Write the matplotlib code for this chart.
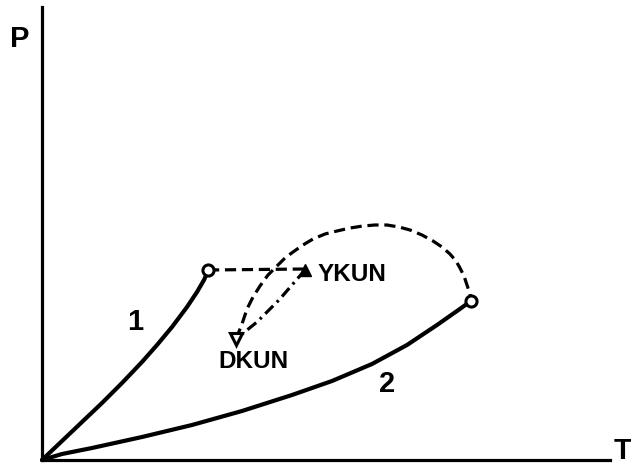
import matplotlib
matplotlib.use("Agg")
import matplotlib.pyplot as plt

# Data (arbitrary T, P units)
curve1_T = [0, 20, 40, 60, 80, 100, 115, 130, 145, 155, 162, 166]
curve1_P = [0, 19, 38, 57, 77, 98, 115, 133, 153, 168, 180, 189]

curve2_T = [0, 20, 50, 100, 150, 200, 250, 290, 330, 365, 395, 415, 429]
curve2_P = [0, 6, 12, 23, 35, 49, 65, 79, 96, 115, 135, 149, 159]

end1 = (166, 190)
end2 = (429, 159)
ykun = (263, 190)
dkun = (194, 121)

link_T = [166, 263]
link_P = [190, 191]

dashdot_T = [263, 237, 215, 194]
dashdot_P = [190, 160, 138, 121]

arc_T = [194, 200, 205, 211, 218, 226, 235, 243, 251, 261, 271, 283, 295, 308, 321,
         333, 345, 357, 368, 380, 391, 400, 408, 414, 418, 422, 425, 428, 429]
arc_P = [121, 136, 151, 163, 174, 185, 194, 202, 208, 215, 221, 226, 229, 232, 234,
         235, 235, 233, 230, 225, 219, 213, 206, 199, 192, 184, 175, 166, 159]

W, H = 631, 464
fig = plt.figure(figsize=(W / 100, H / 100), dpi=100)
ax = fig.add_axes([42 / W, 3 / H, (610 - 42) / W, (461 - 8) / H])
ax.set_xlim(0, 568)
ax.set_ylim(0, 453)
for s in ["top", "right"]:
    ax.spines[s].set_visible(False)
for s in ["left", "bottom"]:
    ax.spines[s].set_linewidth(2.3)
ax.set_xticks([])
ax.set_yticks([])

kw = dict(color="black", solid_capstyle="round", solid_joinstyle="round", clip_on=False)
ax.plot(curve1_T, curve1_P, lw=3.0, **kw)
ax.plot(curve2_T, curve2_P, lw=3.0, **kw)
ax.plot(link_T, link_P, lw=2.3, ls=(0, (3.5, 1.8)), color="black", clip_on=False)
ax.plot(dashdot_T, dashdot_P, lw=2.3, ls=(0, (3.5, 1.6, 0.8, 1.6)), color="black", clip_on=False)
ax.plot(arc_T, arc_P, lw=2.3, ls=(0, (3.5, 1.8)), color="black", clip_on=False)

ax.plot([end1[0], end2[0]], [end1[1], end2[1]], ls="none", marker="o", ms=8,
        mfc="white", mec="black", mew=2.2, clip_on=False)
ax.plot([ykun[0]], [ykun[1]], ls="none", marker="^", ms=8, mfc="black", mec="black", clip_on=False)
ax.plot([dkun[0]], [dkun[1]], ls="none", marker="v", ms=9, mfc="white", mec="black", mew=2.2, clip_on=False)

fam = ["Liberation Sans", "DejaVu Sans"]
ax.text(93, 139, "1", fontsize=21, fontweight="bold", family=fam, ha="center", va="center")
ax.text(345, 77, "2", fontsize=21, fontweight="bold", family=fam, ha="center", va="center")
ax.text(276, 186, "YKUN", fontsize=17.5, fontweight="bold", family=fam, ha="left", va="center")
ax.text(211, 99, "DKUN", fontsize=17.5, fontweight="bold", family=fam, ha="center", va="center")

fig.text(20 / W, 1 - 39 / H, "P", fontsize=21, fontweight="bold", family=fam, ha="center", va="center")
fig.text(623 / W, 1 - 451 / H, "T", fontsize=21, fontweight="bold", family=fam, ha="center", va="center")

fig.savefig("out.png", dpi=100)
